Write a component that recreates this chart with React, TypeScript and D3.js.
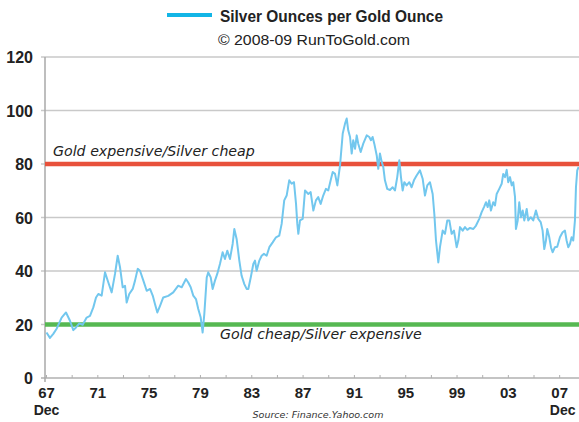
import React from 'react';
import * as d3 from 'd3';

// decimal year of each reading (Dec 1967 .. 2009)
const dates = [
  1967.92, 1968.19, 1968.45, 1968.71, 1969.10, 1969.44, 1969.75, 1970.01, 1970.22, 1970.48,
  1970.74, 1971.05, 1971.31, 1971.57, 1971.78, 1971.96, 1972.22, 1972.48, 1972.74, 1973.00,
  1973.26, 1973.47, 1973.65, 1973.86, 1974.04, 1974.17, 1974.37, 1974.64, 1974.82, 1975.03,
  1975.21, 1975.47, 1975.73, 1975.99, 1976.20, 1976.38, 1976.56, 1976.77, 1977.02, 1977.41,
  1977.80, 1978.19, 1978.46, 1978.79, 1978.97, 1979.16, 1979.36, 1979.57, 1979.75, 1979.94,
  1980.09, 1980.22, 1980.41, 1980.53, 1980.72, 1980.87, 1981.05, 1981.23, 1981.44, 1981.65,
  1981.83, 1982.01, 1982.22, 1982.43, 1982.56, 1982.74, 1982.95, 1983.13, 1983.34, 1983.52,
  1983.65, 1983.84, 1984.04, 1984.17, 1984.30, 1984.51, 1984.69, 1984.87, 1985.08, 1985.29,
  1985.55, 1985.81, 1986.06, 1986.25, 1986.45, 1986.64, 1986.84, 1987.03, 1987.21, 1987.37,
  1987.47, 1987.55, 1987.68, 1987.89, 1988.07, 1988.33, 1988.51, 1988.72, 1988.92, 1989.10,
  1989.29, 1989.49, 1989.70, 1989.88, 1990.07, 1990.23, 1990.41, 1990.59, 1990.80, 1991.01,
  1991.19, 1991.32, 1991.44, 1991.58, 1991.71, 1991.83, 1991.97, 1992.10, 1992.22, 1992.41,
  1992.61, 1992.88, 1993.08, 1993.21, 1993.34, 1993.47, 1993.66, 1993.78, 1993.91, 1994.05,
  1994.17, 1994.30, 1994.48, 1994.69, 1994.90, 1995.08, 1995.26, 1995.42, 1995.55, 1995.68,
  1995.81, 1995.99, 1996.20, 1996.38, 1996.56, 1996.77, 1997.03, 1997.24, 1997.42, 1997.60,
  1997.81, 1998.02, 1998.15, 1998.28, 1998.46, 1998.59, 1998.80, 1998.98, 1999.16, 1999.32,
  1999.50, 1999.68, 1999.89, 2000.02, 2000.15, 2000.36, 2000.54, 2000.72, 2000.93, 2001.19,
  2001.40, 2001.65, 2001.84, 2002.02, 2002.18, 2002.31, 2002.43, 2002.56, 2002.74, 2002.88,
  2003.01, 2003.21, 2003.40, 2003.52, 2003.66, 2003.79, 2003.91, 2004.05, 2004.18, 2004.30,
  2004.44, 2004.51, 2004.65, 2004.77, 2004.90, 2005.04, 2005.16, 2005.35, 2005.47, 2005.66,
  2005.86, 2006.07, 2006.25, 2006.44, 2006.59, 2006.72, 2006.85, 2006.95, 2007.11, 2007.24,
  2007.37, 2007.55, 2007.73, 2007.94, 2008.15, 2008.33, 2008.46, 2008.59, 2008.72, 2008.85,
  2008.98, 2009.11, 2009.19, 2009.29, 2009.40,
];

// silver ounces per gold ounce
const ratio = [
  17.0, 15.0, 16.5, 18.4, 22.6, 24.5, 21.4, 17.9, 18.9, 20.4,
  19.9, 22.6, 23.2, 26.4, 30.1, 31.4, 30.8, 39.5, 35.7, 32.0,
  38.9, 45.7, 41.4, 33.9, 34.5, 28.2, 31.4, 33.3, 36.4, 40.8,
  40.1, 36.4, 32.6, 33.3, 30.8, 27.6, 24.5, 27.0, 30.1, 30.7,
  32.0, 34.5, 33.9, 37.0, 35.7, 33.9, 30.8, 29.5, 25.8, 22.6,
  17.0, 23.9, 37.6, 39.5, 37.6, 33.3, 36.4, 38.9, 42.6, 47.0,
  44.5, 47.6, 44.5, 50.1, 55.7, 52.0, 43.9, 38.2, 35.1, 33.3,
  33.3, 37.6, 42.6, 43.9, 40.1, 43.9, 45.7, 46.4, 45.7, 48.9,
  50.7, 52.6, 53.2, 57.6, 66.4, 68.2, 73.9, 72.6, 73.2, 65.1,
  57.6, 53.9, 58.9, 59.5, 70.1, 68.8, 69.5, 62.6, 66.4, 67.6,
  65.1, 68.2, 70.7, 70.1, 73.9, 77.0, 76.3, 72.0, 79.5, 91.4,
  95.1, 97.0, 92.6, 90.1, 83.9, 88.9, 85.7, 90.7, 87.6, 84.5,
  87.6, 90.7, 90.1, 88.9, 90.1, 87.6, 83.2, 78.2, 83.9, 80.8,
  78.9, 73.9, 70.7, 70.3, 71.3, 70.1, 75.1, 81.4, 75.1, 70.1,
  73.2, 72.0, 73.2, 71.3, 73.9, 75.7, 77.6, 74.5, 68.2, 72.0,
  73.2, 68.8, 61.3, 51.4, 43.2, 48.9, 55.1, 53.9, 58.9, 58.9,
  53.9, 55.1, 48.9, 51.4, 56.4, 55.1, 56.4, 55.4, 56.1, 55.7,
  57.0, 59.5, 62.0, 63.9, 65.7, 63.9, 66.4, 62.6, 65.7, 64.5,
  68.8, 70.7, 72.6, 76.3, 75.1, 77.8, 73.2, 75.1, 72.0, 73.2,
  67.6, 55.7, 58.9, 65.7, 60.1, 62.6, 58.9, 63.2, 58.9, 60.1,
  58.9, 62.6, 59.5, 58.3, 55.1, 48.2, 51.4, 55.7, 52.6, 48.9,
  47.0, 48.9, 49.1, 52.6, 54.5, 55.1, 51.4, 48.9, 50.1, 52.6,
  51.4, 58.9, 71.3, 77.6, 78.9,
];

const yTicks = [0, 20, 40, 60, 80, 100, 120];
const xTickYears = [1967.92, 1971.92, 1975.92, 1979.92, 1983.92, 1987.92, 1991.92, 1995.92, 1999.92, 2003.92, 2007.92];
const xTickLabels = ['67', '71', '75', '79', '83', '87', '91', '95', '99', '03', '07'];
const minorTickYears = d3.range(1967.92, 2009.5, 2);
const expensiveLevel = 80;
const cheapLevel = 20;

const W = 579;
const H = 422;
const left = 45;
const right = 579;
const top = 57;
const bottom = 378;

export default function App() {
  const x = d3.scaleLinear().domain([1967.92, 2009.45]).range([46.5, 579.3]);
  const y = d3.scaleLinear().domain([0, 120]).range([bottom, top]);

  const pts: [number, number][] = dates.map((d, i) => [d, ratio[i]]);
  const line = d3.line<[number, number]>()
    .x(d => x(d[0]))
    .y(d => y(d[1]))
    .curve(d3.curveLinear);

  const axisFont = '"Liberation Sans", Arial, sans-serif';
  const italicFont = '"DejaVu Sans", Verdana, sans-serif';

  return (
    <svg width={W} height={H} style={{ position: 'absolute', left: 0, top: 0, background: '#fff' }}>
      <defs>
        <clipPath id="plot">
          <rect x={left} y={0} width={right - left} height={bottom} />
        </clipPath>
      </defs>

      {/* legend / title */}
      <line x1={167} x2={212} y1={15} y2={15} stroke="#12b5e6" strokeWidth={4} />
      <text x={220} y={22} fontFamily={axisFont} fontWeight="bold" fontSize={17}
        textLength={223} lengthAdjust="spacingAndGlyphs" fill="#222">
        Silver Ounces per Gold Ounce
      </text>
      <text x={218} y={45} fontFamily={axisFont} fontSize={14.5}
        textLength={192} lengthAdjust="spacingAndGlyphs" fill="#222">
        © 2008-09 RunToGold.com
      </text>

      {/* grid */}
      {yTicks.filter(t => t > 0).map(t => (
        <line key={t} x1={left - 4} x2={right} y1={y(t)} y2={y(t)} stroke="#c9c9c9" strokeWidth={1.5} />
      ))}
      <line x1={left - 4} x2={right} y1={bottom} y2={bottom} stroke="#b0b0b0" strokeWidth={1.5} />
      <line x1={left} x2={left} y1={top} y2={bottom + 4} stroke="#a8a8a8" strokeWidth={1.5} />

      {minorTickYears.map(t => (
        <line key={t} x1={x(t)} x2={x(t)} y1={bottom - 3} y2={bottom} stroke="#b0b0b0" strokeWidth={1} />
      ))}

      {/* y labels */}
      {yTicks.map(t => (
        <text key={t} x={33} y={y(t) + 6} textAnchor="end" fontFamily={axisFont} fontWeight="bold" fontSize={16} fill="#222">
          {t}
        </text>
      ))}

      {/* x labels */}
      {xTickYears.map((t, i) => (
        <text key={t} x={x(t)} y={398} textAnchor="middle" fontFamily={axisFont} fontWeight="bold" fontSize={15} fill="#222">
          {xTickLabels[i]}
        </text>
      ))}
      <text x={x(xTickYears[0])} y={414.5} textAnchor="middle" fontFamily={axisFont} fontWeight="bold" fontSize={14} fill="#222">Dec</text>
      <text x={x(xTickYears[xTickYears.length - 1]) + 3} y={414.5} textAnchor="middle" fontFamily={axisFont} fontWeight="bold" fontSize={14} fill="#222">Dec</text>

      {/* threshold bands */}
      <line x1={left} x2={right} y1={y(expensiveLevel)} y2={y(expensiveLevel)} stroke="#e8513b" strokeWidth={4.5} />
      <line x1={left} x2={right} y1={y(cheapLevel)} y2={y(cheapLevel)} stroke="#56b852" strokeWidth={4.5} />

      {/* series */}
      <path d={line(pts) || ''} fill="none" stroke="#72c7ee" strokeWidth={2} strokeLinejoin="round" clipPath="url(#plot)" />

      <text x={53} y={156} fontFamily={italicFont} fontStyle="italic" fontSize={14.2} fill="#222">
        Gold expensive/Silver cheap
      </text>
      <text x={220} y={339} fontFamily={italicFont} fontStyle="italic" fontSize={14.2} fill="#222">
        Gold cheap/Silver expensive
      </text>
      <text x={318} y={418} textAnchor="middle" fontFamily={italicFont} fontStyle="italic" fontSize={9.5} fill="#333">
        Source: Finance.Yahoo.com
      </text>
    </svg>
  );
}
